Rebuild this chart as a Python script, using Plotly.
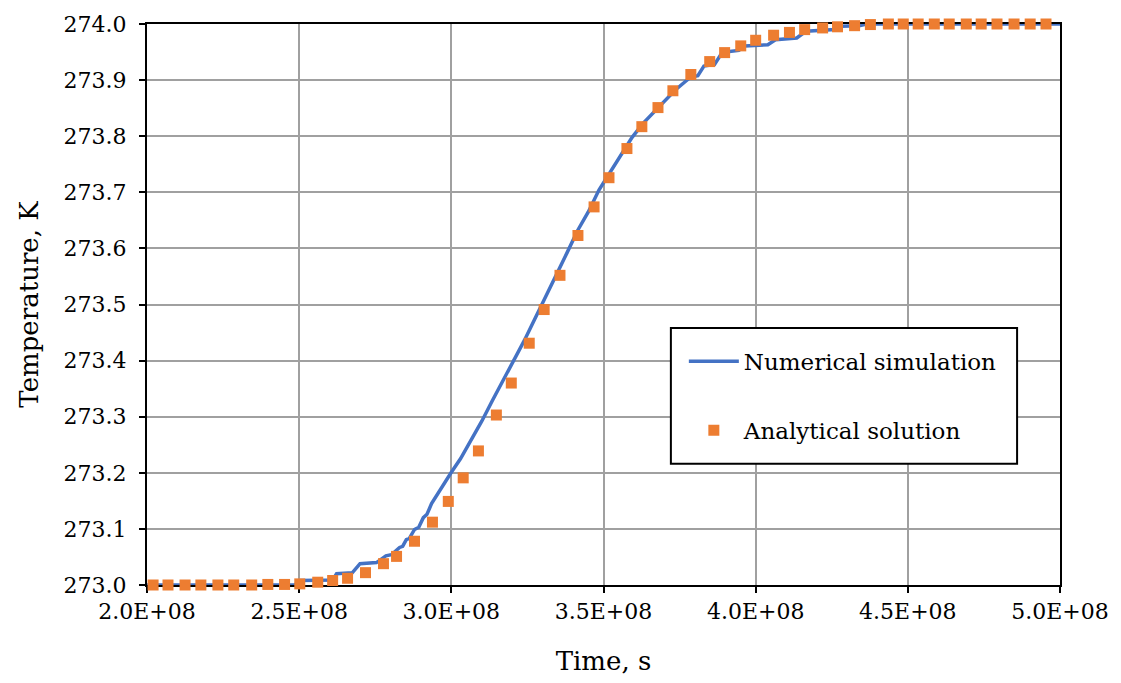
import plotly.graph_objects as go

# Numerical simulation (time in s, temperature in K)
num_time = [2.000e8, 2.485e8, 2.505e8, 2.610e8, 2.623e8, 2.675e8, 2.700e8, 2.754e8, 2.785e8, 2.803e8,
            2.830e8, 2.840e8, 2.852e8, 2.862e8, 2.879e8, 2.893e8, 2.908e8, 2.920e8, 2.935e8, 2.965e8,
            2.999e8, 3.030e8, 3.065e8, 3.100e8, 3.135e8, 3.170e8, 3.205e8, 3.240e8, 3.275e8, 3.310e8,
            3.345e8, 3.380e8, 3.415e8, 3.450e8, 3.485e8, 3.520e8, 3.555e8, 3.594e8, 3.630e8, 3.665e8,
            3.700e8, 3.735e8, 3.770e8, 3.785e8, 3.810e8, 3.830e8, 3.865e8, 3.885e8, 3.900e8, 3.945e8,
            3.965e8, 4.040e8, 4.065e8, 4.135e8, 4.165e8, 4.260e8, 4.280e8, 4.340e8, 4.365e8, 5.000e8]
num_temp = [273.000, 273.000, 273.008, 273.009, 273.020, 273.022, 273.038, 273.040, 273.052, 273.054,
            273.067, 273.069, 273.081, 273.083, 273.099, 273.103, 273.120, 273.126, 273.145, 273.172,
            273.200, 273.225, 273.258, 273.292, 273.329, 273.364, 273.400, 273.436, 273.475, 273.513,
            273.552, 273.592, 273.632, 273.665, 273.704, 273.735, 273.766, 273.798, 273.823, 273.843,
            273.864, 273.882, 273.898, 273.905, 273.908, 273.925, 273.928, 273.945, 273.950, 273.953,
            273.961, 273.963, 273.972, 273.975, 273.987, 273.990, 273.996, 273.997, 274.000, 274.000]

# Analytical solution
ana_time = [2.020e8, 2.069e8, 2.125e8, 2.177e8, 2.233e8, 2.285e8, 2.344e8, 2.397e8, 2.452e8, 2.502e8,
            2.561e8, 2.610e8, 2.659e8, 2.718e8, 2.777e8, 2.820e8, 2.879e8, 2.938e8, 2.990e8, 3.039e8,
            3.089e8, 3.148e8, 3.197e8, 3.256e8, 3.305e8, 3.357e8, 3.416e8, 3.469e8, 3.518e8, 3.577e8,
            3.626e8, 3.679e8, 3.728e8, 3.787e8, 3.849e8, 3.898e8, 3.951e8, 4.000e8, 4.059e8, 4.111e8,
            4.161e8, 4.220e8, 4.269e8, 4.325e8, 4.377e8, 4.436e8, 4.485e8, 4.534e8, 4.587e8, 4.636e8,
            4.692e8, 4.741e8, 4.793e8, 4.849e8, 4.902e8, 4.954e8]
ana_temp = [273.000, 273.000, 273.000, 273.000, 273.000, 273.000, 273.000, 273.001, 273.001, 273.002,
            273.005, 273.008, 273.012, 273.022, 273.038, 273.051, 273.078, 273.112, 273.149, 273.191,
            273.239, 273.303, 273.360, 273.431, 273.491, 273.552, 273.623, 273.674, 273.726, 273.778,
            273.817, 273.851, 273.881, 273.910, 273.933, 273.949, 273.961, 273.971, 273.980, 273.985,
            273.990, 273.993, 273.995, 273.997, 273.999, 274.000, 274.000, 274.000, 274.000, 274.000,
            274.000, 274.000, 274.000, 274.000, 274.000, 274.000]

x_tick_vals = [2.0e8, 2.5e8, 3.0e8, 3.5e8, 4.0e8, 4.5e8, 5.0e8]
x_tick_text = ["2.0E+08", "2.5E+08", "3.0E+08", "3.5E+08", "4.0E+08", "4.5E+08", "5.0E+08"]

FONT = "DejaVu Serif"

fig = go.Figure()
fig.add_trace(go.Scatter(
    x=num_time, y=num_temp, mode="lines", name="Numerical simulation",
    line=dict(color="#4472C4", width=3.5), legendgroup="a",
    cliponaxis=False,
))
fig.add_trace(go.Scatter(
    x=ana_time, y=ana_temp, mode="markers", name="Analytical solution",
    marker=dict(symbol="square", size=11, color="#ED7D31"), legendgroup="b",
    cliponaxis=False,
))

axis_common = dict(
    showline=True, linecolor="black", linewidth=2, mirror=True,
    showgrid=True, gridcolor="#A0A0A0", gridwidth=1.5,
    ticks="outside", ticklen=6, tickcolor="black", tickwidth=1.5,
    zeroline=False, layer="below traces",
    tickfont=dict(family=FONT, size=22, color="black"),
)

fig.update_xaxes(
    range=[2.0e8, 5.0e8], tickvals=x_tick_vals, ticktext=x_tick_text,
    title=dict(text="Time, s", font=dict(family=FONT, size=26, color="black"), standoff=28),
    **axis_common,
)
fig.update_yaxes(
    range=[273.0, 274.0], dtick=0.1, tickformat=".1f", ticklabelstandoff=8,
    title=dict(text="Temperature, K", font=dict(family=FONT, size=26, color="black"), standoff=18),
    **axis_common,
)

# Legend frame
fig.add_shape(
    type="rect", xref="paper", yref="paper",
    x0=0.5738, x1=0.953, y0=0.216, y1=0.458,
    line=dict(color="black", width=2), fillcolor="white", layer="above",
)

fig.update_layout(
    width=1121, height=683,
    margin=dict(l=147, r=58, t=20, b=96),
    paper_bgcolor="white", plot_bgcolor="white",
    font=dict(family=FONT, color="black"),
    legend=dict(
        x=0.588, y=0.437, xanchor="left", yanchor="top",
        bgcolor="rgba(0,0,0,0)", borderwidth=0,
        font=dict(family=FONT, size=23, color="black"),
        traceorder="grouped", tracegroupgap=36, itemwidth=50,
    ),
)

fig.write_html("out.html")
